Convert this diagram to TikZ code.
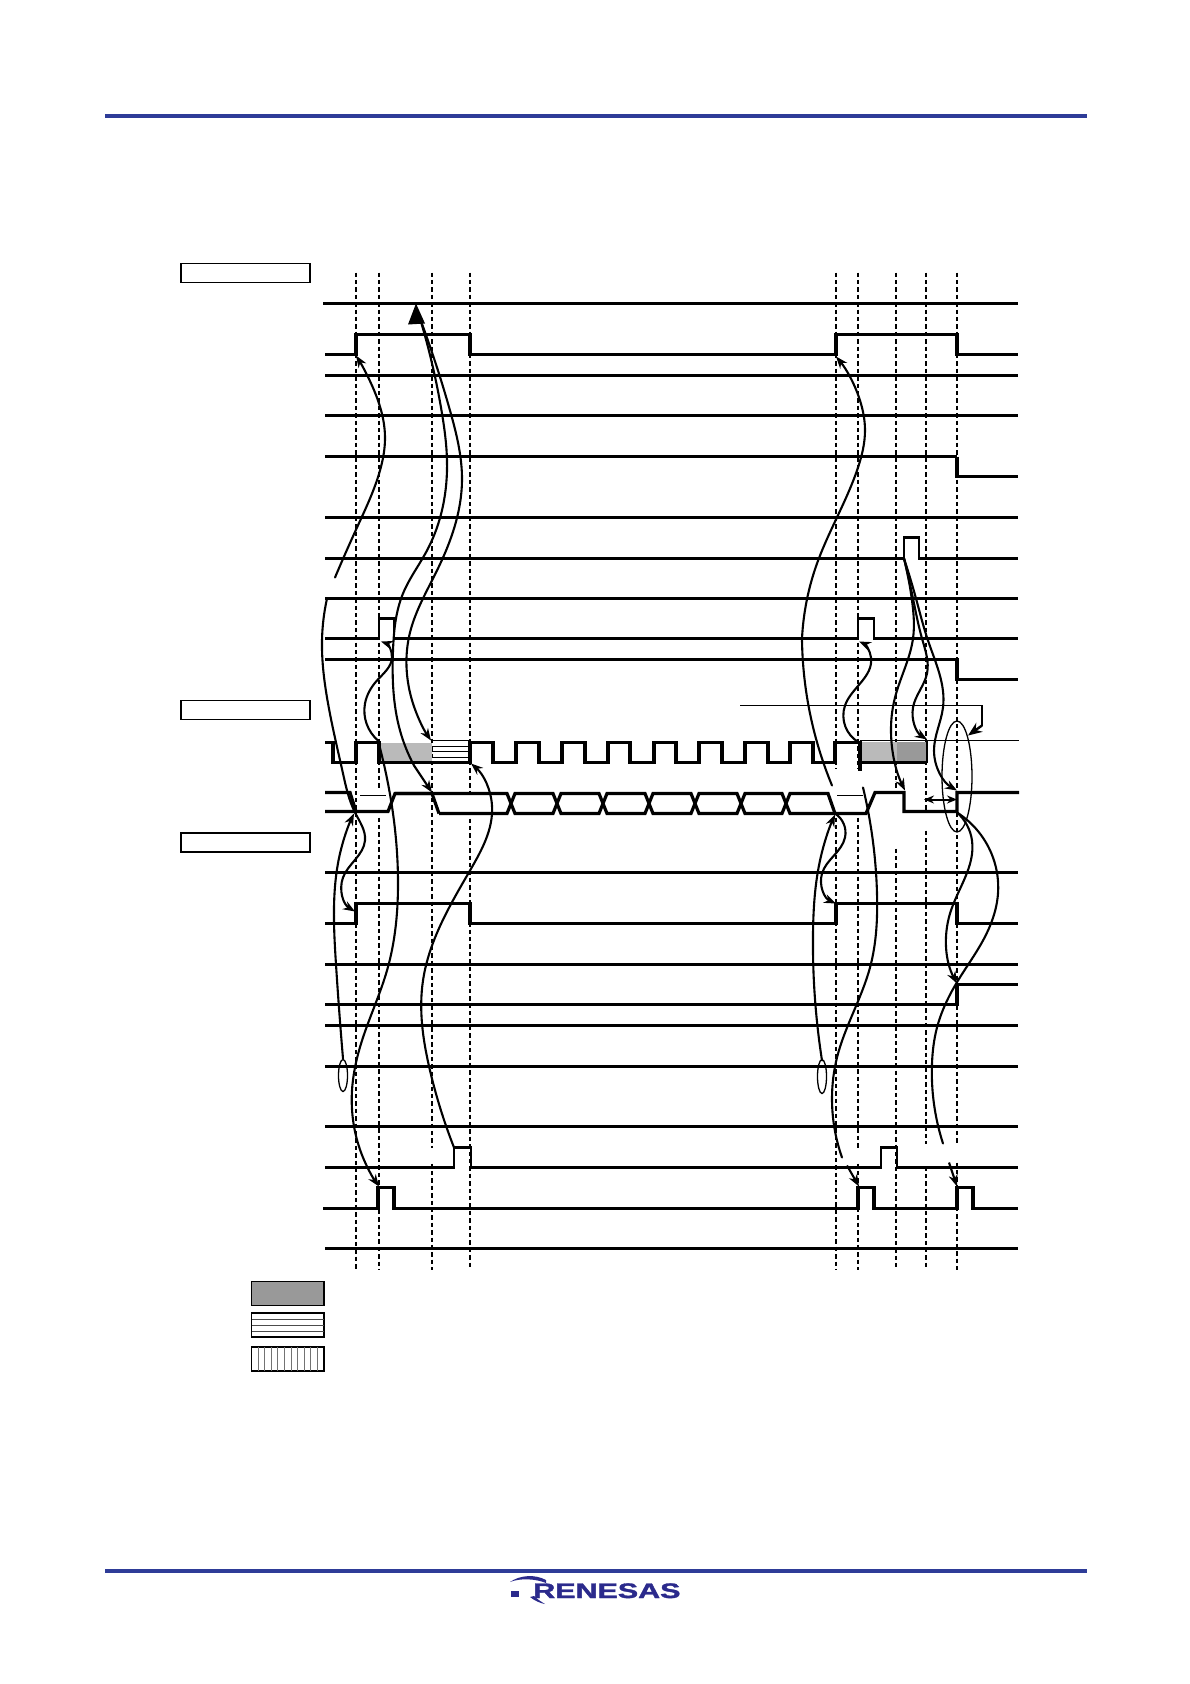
\documentclass[tikz,border=0pt]{standalone}
\usepackage{fontspec}
\setmainfont{Liberation Sans}
\newfontfamily\logofont[FakeBold=1.5]{Liberation Sans Bold}
\usetikzlibrary{arrows.meta,hobby}
\definecolor{rule}{HTML}{2E3C98}
\definecolor{logo}{HTML}{2B2A8C}
\tikzset{
  sigA/.style={line width=3.2pt,line join=miter},
  sigB/.style={line width=2.9pt,line join=miter},
  sigC/.style={line width=2.3pt},
  dashline/.style={line width=1.4pt,dash pattern=on 4.5pt off 2.9pt},
  curve/.style={line width=2.1pt,line cap=round,use Hobby shortcut},
  tip/.style={-{Stealth[length=12pt,width=9pt]}},
  emptybox/.style={draw,line width=1.8pt,fill=white,minimum width=129pt,minimum height=19pt,inner sep=0pt,outer sep=0pt,anchor=north west},
  legendbox/.style={draw,line width=1.6pt,minimum width=72.5pt,minimum height=24pt,inner sep=0pt,outer sep=0pt,anchor=north west},
}
\begin{document}
\begin{tikzpicture}[x=1pt,y=-1pt]
\useasboundingbox (0,0) rectangle (1190,1684);
\fill[white] (0,0) rectangle (1190,1684);
% rules
\draw[rule,line width=4pt] (105,115.5) -- (1087,115.5);
\draw[rule,line width=4pt] (105,1571) -- (1087,1571);
% boxes
\node[emptybox] (b1) at (181,263.5) {};
\node[emptybox] (b2) at (181,700.5) {};
\node[emptybox] (b3) at (181,833) {};
\begin{scope}[yshift=-0.5pt]
% dashes
\foreach \x/\a/\b in {356/272/1269,379/272/787,379/817/1269,432/272/1147,432/1163/1269,470/272/795,470/818/1269,
  836/272/768,836/817/1269,858/272/768,858/817/1147,858/1163/1269,896/272/788,896/848/1269,
  926/272/812,926/830/1143,926/1166/1269,957/272/1143,957/1162/1269}
  \draw[dashline] (\x,\a) -- (\x,\b);
% flat signals
\draw[sigA] (323,303) -- (1018,303);
\draw[sigB] (325,375) -- (1018,375);
\draw[sigA] (325,415) -- (1018,415);
\draw[sigC] (325,517) -- (1018,517);
\draw[sigB] (325,598) -- (1018,598);
\draw[sigA] (325,872) -- (1018,872);
\draw[sigA] (325,964) -- (1018,964);
\draw[sigB] (325,1025) -- (1018,1025);
\draw[sigC] (325,1066) -- (1018,1066);
\draw[sigA] (325,1126) -- (1018,1126);
\draw[sigA] (325,1248) -- (1018,1248);
% stepped signals
\draw[sigA] (325,354) -- (356,354) -- (356,334) -- (470,334) -- (470,354) -- (836,354) -- (836,334) -- (957,334) -- (957,354) -- (1018,354);
\draw[sigC] (325,456) -- (957,456);
\draw[sigA] (957,456) -- (957,476) -- (1018,476);
\draw[sigB] (325,558) -- (904,558) -- (904,537) -- (919,537) -- (919,558) -- (1018,558);
\draw[sigB] (325,638) -- (379,638) -- (379,618) -- (394,618) -- (394,638) -- (858,638) -- (858,618) -- (874,618) -- (874,638) -- (1018,638);
\draw[sigA] (325,659) -- (957,659) -- (957,679) -- (1018,679);
\draw[sigA] (325,923) -- (356,923) -- (356,903) -- (470,903) -- (470,923) -- (836,923) -- (836,903) -- (957,903) -- (957,923) -- (1018,923);
\draw[sigA] (325,1004) -- (957,1004) -- (957,984) -- (1018,984);
\draw[sigB] (325,1167) -- (454,1167) -- (454,1147) -- (471,1147) -- (471,1167) -- (881,1167) -- (881,1147) -- (897,1147) -- (897,1167) -- (1018,1167);
\draw[sigA] (323,1208) -- (378,1208) -- (378,1187) -- (394,1187) -- (394,1208) -- (858,1208) -- (858,1187) -- (874,1187) -- (874,1208) -- (957,1208) -- (957,1187) -- (973,1187) -- (973,1208) -- (1018,1208);
% SCL shaded
\fill[black!27] (379,742) rectangle (432,762);
\draw[line width=1pt] (432,740) -- (470,740) (432,745.5) -- (470,745.5) (432,751) -- (470,751) (432,756.5) -- (470,756.5);
\fill[black!27] (860,741) rectangle (897,762);
\fill[black!40] (897,741) rectangle (927,762);
\draw[line width=1.8pt] (860,740) -- (1019,740);
\draw[line width=1.5pt] (927,740) -- (927,762);
\draw[sigA] (325,742) -- (333,742) -- (333,762) -- (356,762) -- (356,742) -- (379,742) -- (379,762) -- (470,762) -- (470,742)
  -- (493,742) -- (493,762) -- (516,762) -- (516,742) -- (539,742) -- (539,762) -- (562,762) -- (562,742) -- (585,742) -- (585,762)
  -- (608,762) -- (608,742) -- (630,742) -- (630,762) -- (654,762) -- (654,742) -- (676,742) -- (676,762) -- (699,762) -- (699,742)
  -- (722,742) -- (722,762) -- (745,762) -- (745,742) -- (768,742) -- (768,762) -- (790,762) -- (790,742) -- (813,742) -- (813,762)
  -- (835,762) -- (835,742) -- (858,742);
\draw[line width=4.5pt] (860,740) -- (860,770);
\draw[sigA] (858,762) -- (927,762);
% SDA
\draw[sigA] (325,792) -- (350,792) -- (356,811);
\draw[sigA] (325,811) -- (388,811) -- (395,793) -- (432,793) -- (439,813);
\draw[sigA] (395,793) -- (507,793) -- (515,813) -- (553,813) -- (561,793) -- (599,793) -- (607,813) -- (645,813) -- (653,793)
  -- (691,793) -- (699,813) -- (737,813) -- (745,793) -- (782,793) -- (790,813) -- (835,813) -- (866,813) -- (875,792) -- (904,792) -- (904,811) -- (957,811) -- (957,792) -- (1019,792);
\draw[sigA] (439,813) -- (507,813) -- (515,793) -- (553,793) -- (561,813) -- (599,813) -- (607,793) -- (645,793) -- (653,813)
  -- (691,813) -- (699,793) -- (737,793) -- (745,813) -- (782,813) -- (790,793) -- (828,793) -- (835,813);
\draw[line width=1pt] (360,794.5) -- (386,794.5) (837,795) -- (863,795);
% bracket
\draw[line width=1.6pt] (740,705) -- (982,705) -- (982,725);
\draw[line width=2.4pt,-{Stealth[length=14pt,width=11pt]}] (982,725) -- (968,735);
% ellipses
\draw[line width=1.3pt] (957,776) ellipse [x radius=15,y radius=55.5];
\draw[line width=1.3pt] (343,1075) ellipse [x radius=4.5,y radius=16];
\draw[line width=1.3pt] (822,1076) ellipse [x radius=4.5,y radius=17];
% big arrow
\fill (416,303) -- (425,323) -- (408,324) -- cycle;
% curves
\draw[curve,tip] (335,577) .. (357,527) .. (380,470) .. (385,437) .. (372,385) .. (356,355);
\draw[curve] (420,318) .. (442,413) .. (447,460) .. (427,550) .. (403,593) .. (393,650) .. (400,730) .. (414,765);
\draw[line width=2.1pt,tip] (414,765) -- (432,792);
\draw[curve,tip] (420,318) .. (450,410) .. (462,480) .. (437,570) .. (410,632) .. (413,703) .. (431,740);
\draw[curve,tip] (802,638) .. (817,563) .. (858,467) .. (865,430) .. (860,400) .. (836,356);
\draw[curve] (802,640) .. (810,713) .. (832,785);
\draw[curve,tip] (327,598) .. (322,640) .. (327,697) .. (343,773) .. (355,812) .. (365,840) .. (343,877) .. (355,911);
\draw[curve,tip] (343,1058) .. (336,964) .. (334,907) .. (340,853) .. (354,813);
\draw[curve,tip] (378,740) .. (365,703) .. (377,680) .. (392,657) .. (381,641);
\draw[curve,tip] (378,740) .. (388,783) .. (398,880) .. (387,970) .. (363,1037) .. (352,1090) .. (363,1157) .. (379,1186);
\draw[curve,tip] (454,1147) .. (430,1070) .. (422,1023) .. (423,980) .. (470,870) .. (492,805) .. (471,763);
\draw[curve,tip] (859,742) .. (845,705) .. (871,657) .. (859,641);
\draw[curve] (863,787) .. (877,893) .. (870,967) .. (837,1057) .. (832,1097) .. (842,1157);
\draw[line width=2.1pt,tip] (847,1165) -- (859,1186);
\draw[curve,tip] (822,1060) .. (813,933) .. (820,860) .. (835,814);
\draw[curve,tip] (835,813) .. (845,837) .. (822,873) .. (836,903);
\draw[curve,tip] (904,558) .. (912,600) .. (913,638) .. (895,697) .. (891,727) .. (905,790);
\draw[curve,tip] (904,558) .. (913,598) .. (922,638) .. (927,673) .. (913,707) .. (927,739);
\draw[curve,tip] (904,558) .. (916,598) .. (928,640) .. (943,707) .. (934,750) .. (957,790);
\draw[curve,tip] (957,812) .. (972,840) .. (950,913) .. (957,983);
\draw[curve] (957,812) .. (993,857) .. (998,893) .. (983,940) .. (958,980) .. (937,1027) .. (932,1063) .. (943,1143);
\draw[line width=2.1pt,tip] (949,1162) -- (957,1186);
% double arrow
\draw[line width=2pt,{Stealth[length=10pt,width=8pt]}-{Stealth[length=10pt,width=8pt]}] (924,799) -- (957,799);
\end{scope}
% legend
\node[legendbox,fill=black!40] (l1) at (251.5,1281.5) {};
\node[legendbox] (l2) at (251.5,1313) {};
\node[legendbox] (l3) at (251.5,1347) {};
\foreach \y in {1319,1325,1331} \draw[line width=1pt,black!70] (251.5,\y) -- (324,\y);
\foreach \i in {1,...,10} \draw[line width=1pt,black!55] ({251.5+6.6*\i},1347) -- ({251.5+6.6*\i},1371);
% logo
\node[anchor=base west,inner sep=0pt,text=logo,xscale=1.45,font=\logofont\fontsize{21pt}{21pt}\selectfont] (logotext) at (533,1598) {RENESAS};
\fill[logo] (511,1591) rectangle (519,1597);
\fill[logo] (510,1582) .. controls (520,1575) and (535,1574) .. (546,1580) -- (546,1583) .. controls (535,1578.5) and (520,1578) .. (510,1582) -- cycle;
\fill[logo] (534,1596) .. controls (538,1600) and (542,1602) .. (545,1604) .. controls (540,1603) and (535,1601) .. (530,1597) -- cycle;
\end{tikzpicture}
\end{document}
